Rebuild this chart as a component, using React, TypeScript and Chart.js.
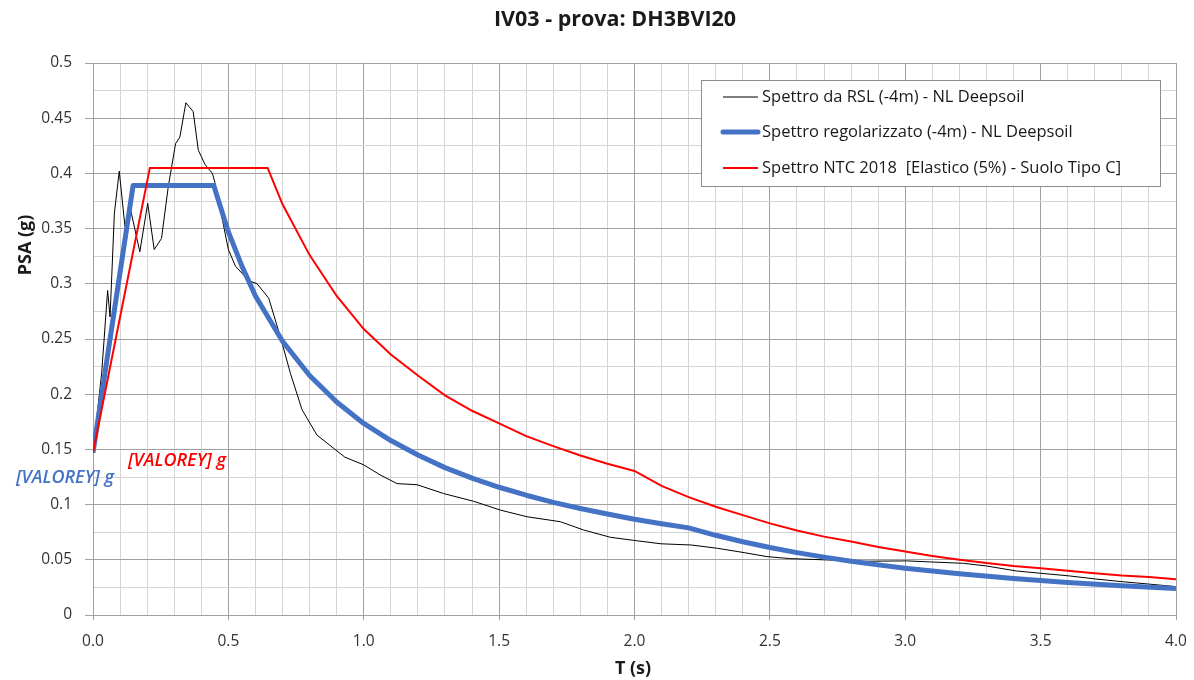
import React, { useEffect, useRef } from "react";
import { Chart, registerables } from "chart.js";

Chart.register(...registerables);

// ---- Data ----
const chartTitle = "IV03 - prova: DH3BVI20";
const xAxisTitle = "T (s)";
const yAxisTitle = "PSA (g)";
const seriesLabels = [
  "Spettro da RSL (-4m) - NL Deepsoil",
  "Spettro regolarizzato (-4m) - NL Deepsoil",
  "Spettro NTC 2018  [Elastico (5%) - Suolo Tipo C]",
];
const seriesColors = ["#000000", "#4472c4", "#ff0000"];
const seriesWidths = [1, 5, 2];
const dataLabelText = "[VALOREY] g";

const rslT = [
  0, 0.032, 0.054, 0.063, 0.079, 0.097, 0.118, 0.138, 0.173, 0.202, 0.226, 0.253,
  0.278, 0.305, 0.321, 0.343, 0.37, 0.389, 0.414, 0.441, 0.45, 0.5, 0.526, 0.575,
  0.606, 0.649, 0.692, 0.729, 0.772, 0.827, 0.93, 1.0, 1.06, 1.123, 1.197, 1.295,
  1.406, 1.505, 1.603, 1.726, 1.812, 1.911, 2.0, 2.098, 2.21, 2.307, 2.405, 2.489,
  2.573, 2.698, 2.85, 3.006, 3.1, 3.215, 3.3, 3.41, 3.5, 3.606, 3.704, 3.8, 3.9, 4.0,
];
const rslPSA = [
  0.147, 0.219, 0.294, 0.27, 0.364, 0.402, 0.352, 0.368, 0.329, 0.373, 0.331, 0.341,
  0.388, 0.427, 0.433, 0.464, 0.456, 0.421, 0.408, 0.4, 0.392, 0.331, 0.316, 0.303,
  0.3, 0.287, 0.252, 0.219, 0.186, 0.163, 0.143, 0.136, 0.127, 0.119, 0.118, 0.11,
  0.103, 0.095, 0.089, 0.0845, 0.077, 0.0704, 0.0675, 0.0645, 0.0634, 0.0604, 0.0565, 0.0529,
  0.0511, 0.05, 0.0487, 0.049, 0.048, 0.0468, 0.0444, 0.0399, 0.0378, 0.0354, 0.0326, 0.0302, 0.028, 0.0257,
];

const regT = [
  0, 0.148, 0.446, 0.5, 0.55, 0.6, 0.7, 0.8, 0.9, 1.0, 1.1, 1.2, 1.3, 1.4, 1.5, 1.6,
  1.7, 1.8, 1.9, 2.0, 2.1, 2.2, 2.3, 2.4, 2.5, 2.6, 2.7, 2.8, 2.9, 3.0, 3.2, 3.4, 3.6, 3.8, 4.0,
];
const regPSA = [
  0.147, 0.389, 0.389, 0.347, 0.316, 0.289, 0.248, 0.217, 0.193, 0.1735, 0.158, 0.145,
  0.1335, 0.124, 0.1157, 0.1085, 0.102, 0.0965, 0.0915, 0.0868, 0.0827, 0.0789, 0.0722,
  0.0663, 0.0611, 0.0565, 0.0524, 0.0487, 0.0454, 0.0424, 0.0373, 0.0331, 0.0295, 0.0265, 0.0239,
];

const ntcT = [
  0, 0.21, 0.645, 0.7, 0.8, 0.9, 1.0, 1.1, 1.2, 1.3, 1.4, 1.5, 1.6, 1.7, 1.8, 1.9, 2.0,
  2.1, 2.2, 2.3, 2.4, 2.5, 2.6, 2.7, 2.8, 2.9, 3.0, 3.1, 3.2, 3.3, 3.4, 3.5, 3.6, 3.7, 3.8, 3.9, 4.0,
];
const ntcPSA = [
  0.147, 0.405, 0.405, 0.372, 0.326, 0.289, 0.259, 0.236, 0.217, 0.199, 0.185, 0.1735,
  0.162, 0.153, 0.1445, 0.137, 0.1305, 0.117, 0.1068, 0.098, 0.0905, 0.083, 0.0765, 0.071,
  0.0665, 0.0615, 0.0575, 0.0535, 0.05, 0.047, 0.0443, 0.0423, 0.04, 0.0378, 0.0357, 0.0345, 0.0323,
];

const xMajorTicks = [0, 0.5, 1, 1.5, 2, 2.5, 3, 3.5, 4];
const xTickLabels = ["0.0", "0.5", "1.0", "1.5", "2.0", "2.5", "3.0", "3.5", "4.0"];
const yMajorTicks = [0, 0.05, 0.1, 0.15, 0.2, 0.25, 0.3, 0.35, 0.4, 0.45, 0.5];
const yTickLabels = ["0", "0.05", "0.1", "0.15", "0.2", "0.25", "0.3", "0.35", "0.4", "0.45", "0.5"];

const FONT = "'Open Sans', 'Noto Sans', sans-serif";
const MAJOR_GRID = "#a0a0a0";
const MINOR_GRID = "#d4d4d4";

function majorIndex(list: number[], v: number) {
  return list.findIndex((m) => Math.abs(m - v) < 1e-6);
}

const overlayPlugin = {
  id: "overlay",
  afterDatasetsDraw(chart: any) {
    const ctx = chart.ctx;
    const area = chart.chartArea;
    ctx.save();

    // data labels on first points
    const redPt = chart.getDatasetMeta(2).data[0];
    const bluePt = chart.getDatasetMeta(1).data[0];
    ctx.font = `italic 600 18px ${FONT}`;
    ctx.textAlign = "center";
    ctx.textBaseline = "middle";
    if (redPt) {
      ctx.fillStyle = seriesColors[2];
      ctx.fillText(dataLabelText, redPt.x + 84, redPt.y + 8);
    }
    if (bluePt) {
      ctx.fillStyle = seriesColors[1];
      ctx.fillText(dataLabelText, bluePt.x - 28, bluePt.y + 25);
    }

    // legend box
    const bw = 459;
    const bh = 106;
    const bx = area.right - 16 - bw;
    const by = area.top + 17;
    ctx.fillStyle = "#ffffff";
    ctx.fillRect(bx, by, bw, bh);
    ctx.strokeStyle = "#8c8c8c";
    ctx.lineWidth = 1;
    ctx.strokeRect(bx + 0.5, by + 0.5, bw, bh);
    const rows = [17, 52, 88];
    ctx.font = `16.5px ${FONT}`;
    ctx.textAlign = "left";
    ctx.textBaseline = "middle";
    for (let i = 0; i < seriesLabels.length; i++) {
      const yy = by + rows[i];
      ctx.strokeStyle = seriesColors[i];
      ctx.lineWidth = seriesWidths[i];
      ctx.lineCap = i === 1 ? "round" : "butt";
      ctx.beginPath();
      ctx.moveTo(bx + 22, yy);
      ctx.lineTo(bx + 57, yy);
      ctx.stroke();
      ctx.fillStyle = "#1a1a1a";
      ctx.fillText(seriesLabels[i], bx + 61, yy);
    }

    // title
    ctx.fillStyle = "#1a1a1a";
    ctx.font = `bold 21.5px ${FONT}`;
    ctx.textAlign = "center";
    ctx.textBaseline = "middle";
    ctx.fillText(chartTitle, 615, 20);

    // x axis title
    ctx.font = `bold 18px ${FONT}`;
    ctx.fillText(xAxisTitle, 633, 669);

    // y axis title
    ctx.save();
    ctx.translate(26, 245);
    ctx.rotate(-Math.PI / 2);
    ctx.fillText(yAxisTitle, 0, 0);
    ctx.restore();

    ctx.restore();
  },
};

export default function App() {
  const canvasRef = useRef<HTMLCanvasElement | null>(null);

  useEffect(() => {
    if (!canvasRef.current) return;
    const mk = (xs: number[], ys: number[]) => xs.map((x, i) => ({ x, y: ys[i] }));
    const chart = new Chart(canvasRef.current, {
      type: "line",
      data: {
        datasets: [
          {
            label: seriesLabels[0],
            data: mk(rslT, rslPSA),
            borderColor: seriesColors[0],
            borderWidth: seriesWidths[0],
            pointRadius: 0,
            tension: 0,
            order: 3,
          },
          {
            label: seriesLabels[1],
            data: mk(regT, regPSA),
            borderColor: seriesColors[1],
            borderWidth: seriesWidths[1],
            pointRadius: 0,
            tension: 0,
            order: 2,
            borderJoinStyle: "round",
          },
          {
            label: seriesLabels[2],
            data: mk(ntcT, ntcPSA),
            borderColor: seriesColors[2],
            borderWidth: seriesWidths[2],
            pointRadius: 0,
            tension: 0,
            order: 1,
          },
        ],
      },
      options: {
        animation: false,
        responsive: true,
        maintainAspectRatio: false,
        layout: { padding: { top: 63, right: 18, left: 0, bottom: 0 } },
        plugins: {
          legend: { display: false },
          title: { display: false },
          tooltip: { enabled: false },
        },
        scales: {
          x: {
            type: "linear",
            min: 0,
            max: 4,
            afterFit: (s: any) => {
              s.height = 65;
              s.paddingLeft = 0;
              s.paddingRight = 0;
            },
            ticks: {
              stepSize: 0.1,
              autoSkip: false,
              maxRotation: 0,
              padding: 12,
              color: "#333333",
              font: { family: FONT, size: 15.5 },
              callback: (v: any) => {
                const i = majorIndex(xMajorTicks, Number(v));
                return i >= 0 ? xTickLabels[i] : "";
              },
            },
            grid: {
              color: (c: any) => (majorIndex(xMajorTicks, c.tick?.value ?? -1) >= 0 ? MAJOR_GRID : MINOR_GRID),
              tickColor: (c: any) => (majorIndex(xMajorTicks, c.tick?.value ?? -1) >= 0 ? MAJOR_GRID : "rgba(0,0,0,0)"),
              tickLength: 5,
              lineWidth: 1,
            },
            border: { color: MAJOR_GRID },
          },
          y: {
            type: "linear",
            min: 0,
            max: 0.5,
            afterFit: (s: any) => {
              s.width = 93;
              s.paddingTop = 0;
              s.paddingBottom = 0;
            },
            ticks: {
              stepSize: 0.025,
              autoSkip: false,
              padding: 13,
              color: "#333333",
              font: { family: FONT, size: 15.5 },
              callback: (v: any) => {
                const i = majorIndex(yMajorTicks, Number(v));
                return i >= 0 ? yTickLabels[i] : "";
              },
            },
            grid: {
              color: (c: any) => (majorIndex(yMajorTicks, c.tick?.value ?? -1) >= 0 ? MAJOR_GRID : MINOR_GRID),
              tickColor: (c: any) => (majorIndex(yMajorTicks, c.tick?.value ?? -1) >= 0 ? MAJOR_GRID : "rgba(0,0,0,0)"),
              tickLength: 8,
              lineWidth: 1,
            },
            border: { color: MAJOR_GRID },
          },
        },
      },
      plugins: [overlayPlugin],
    } as any);
    return () => chart.destroy();
  }, []);

  return (
    <div style={{ position: "fixed", left: 0, top: 0, width: 1194, height: 680, background: "#ffffff" }}>
      <canvas ref={canvasRef} />
    </div>
  );
}
